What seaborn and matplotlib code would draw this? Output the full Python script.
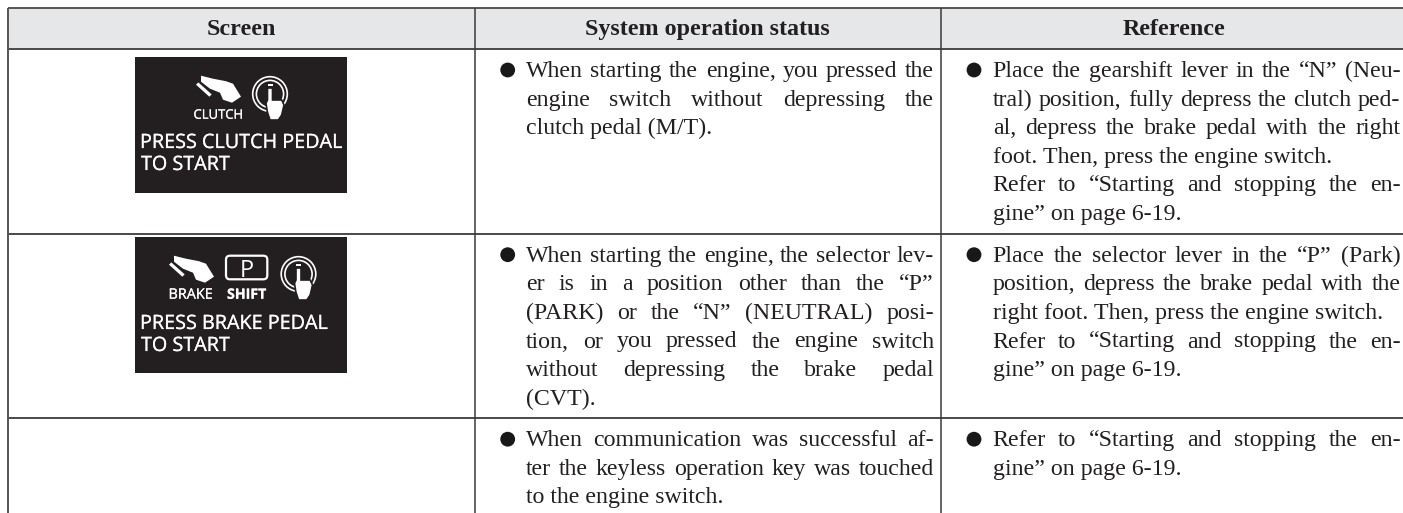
# -*- coding: utf-8 -*-
"""Warning message table redrawn in pixel coordinates."""

import matplotlib
matplotlib.use('Agg')
import matplotlib.patheffects as pe
import matplotlib.pyplot as plt
import seaborn as sns
from matplotlib.patches import Circle, FancyBboxPatch, Polygon, Rectangle

# table text
headers = ['Screen', 'System operation status', 'Reference']

# lines ending in True are stretched to the full column width
status_row1 = [('When starting the engine, you pressed the', True),
               ('engine switch without depressing the', True),
               ('clutch pedal (M/T).', False)]
status_row2 = [('When starting the engine, the selector lev-', True),
               ('er is in a position other than the “P”', True),
               ('(PARK) or the “N” (NEUTRAL) posi-', True),
               ('tion, or you pressed the engine switch', True),
               ('without depressing the brake pedal', True),
               ('(CVT).', False)]
status_row3 = [('When communication was successful af-', True),
               ('ter the keyless operation key was touched', True),
               ('to the engine switch.', False)]
reference_row1 = [('Place the gearshift lever in the “N” (Neu-', True),
                  ('tral) position, fully depress the clutch ped-', True),
                  ('al, depress the brake pedal with the right', True),
                  ('foot. Then, press the engine switch.', False),
                  ('Refer to “Starting and stopping the en-', True),
                  ('gine” on page 6-19.', False)]
reference_row2 = [('Place the selector lever in the “P” (Park)', True),
                  ('position, depress the brake pedal with the', True),
                  ('right foot. Then, press the engine switch.', False),
                  ('Refer to “Starting and stopping the en-', True),
                  ('gine” on page 6-19.', False)]
reference_row3 = [('Refer to “Starting and stopping the en-', True),
                  ('gine” on page 6-19.', False)]

screen1_lines = ['PRESS CLUTCH PEDAL', 'TO START']
screen2_lines = ['PRESS BRAKE PEDAL', 'TO START']

INK = '#231f20'
LINE = '#3a3a3a'
BODY_SIZE = 17.2
PITCH = 28.6
HEAVY = [pe.withStroke(linewidth=0.15, foreground='white')]

sns.set_theme(style='white')
plt.rcParams['font.family'] = ['Liberation Serif', 'DejaVu Serif']

fig = plt.figure(figsize=(14.03, 5.13), dpi=100)
ax = fig.add_axes([0, 0, 1, 1])
ax.set_xlim(0, 1403)
ax.set_ylim(513, 0)
ax.axis('off')
sns.despine(ax=ax, left=True, bottom=True)
renderer = fig.canvas.get_renderer()


def word_width(word):
    t = ax.text(0, 0, word, fontsize=BODY_SIZE)
    w = t.get_window_extent(renderer).width
    t.remove()
    return w


def draw_paragraph(lines, x0, x1, baseline):
    """Draw lines of text, spreading the justified ones between x0 and x1."""
    for i, (line, justify) in enumerate(lines):
        y = baseline + i * PITCH
        words = line.split(' ')
        if justify and len(words) > 1:
            widths = [word_width(w) for w in words]
            gap = (x1 - x0 - sum(widths)) / (len(words) - 1)
            x = x0
            for word, w in zip(words, widths):
                ax.text(x, y, word, fontsize=BODY_SIZE, color=INK, va='baseline')
                x += w + gap
        else:
            ax.text(x0, y, line, fontsize=BODY_SIZE, color=INK, va='baseline')


def bullet(x, y):
    ax.add_patch(Circle((x, y), 7.4, color='#1a1718', lw=0))


def pedal(x, y):
    foot = [(0, 0), (12, 3), (25, 5.5), (32, 8), (40, 21), (31, 27), (22, 24),
            (19, 17), (9, 13), (0, 6)]
    bar = [(-5, 9), (-2.7, 6.7), (10.7, 18.7), (8.3, 21)]
    ax.add_patch(Polygon([(x + a, y + b) for a, b in foot], color='white', lw=0))
    ax.add_patch(Polygon([(x + a, y + b) for a, b in bar], color='white', lw=0))


def push_button(x, y):
    ax.add_patch(Circle((x, y), 17.3, fill=False, ec='white', lw=1.2))
    ax.add_patch(Circle((x, y), 13.6, fill=False, ec='white', lw=1.2))
    ax.add_patch(Rectangle((x - 2.5, y - 10), 5, 1.6, color='white', lw=0))
    hand = [(-4, 9.3), (-2.5, 6), (-2.5, -6), (2.5, -6), (2.5, 6), (11.7, 6),
            (14, 11), (11.7, 21), (8.3, 26), (0, 26), (-2.7, 17.7)]
    ax.add_patch(Polygon([(x + a, y + b) for a, b in hand], fc='white', ec=INK, lw=1.2))


def screen_label(x, y, label, size, **kwargs):
    ax.text(x, y, label, fontsize=size, family='Open Sans', color='white',
            va='baseline', path_effects=HEAVY, **kwargs)


def screen_box(top, lines, base1, base2):
    ax.add_patch(Rectangle((135, top), 212, 136, color=INK, lw=0))
    screen_label(140, base1, lines[0], 14.25)
    screen_label(141, base2, lines[1], 14.25)


# header band and rules
ax.add_patch(Rectangle((8, 8), 1395, 40, color='#e6e7e8', lw=0))
ax.hlines(8, 8, 1403, color='#555555', lw=1.4)
ax.hlines([48.5, 233.5, 417.5], 8, 1403, color=LINE, lw=1.3)
ax.vlines(8, 8, 513, color='#555555', lw=1.4)
ax.vlines([474.5, 940.5], 8, 513, color=LINE, lw=1.1)

for x, label in zip([241, 707, 1174], headers):
    ax.text(x, 35, label, fontsize=17.3, fontweight='bold', color=INK,
            ha='center', va='baseline')

# screen column
screen_box(57, screen1_lines, 148, 170)
pedal(201, 75.7)
screen_label(218, 118.7, 'CLUTCH', 9.4, ha='center')
push_button(270, 94)

screen_box(236.5, screen2_lines, 329, 351)
pedal(174, 255.7)
screen_label(190.5, 298.7, 'BRAKE', 10.4, ha='center')
ax.add_patch(FancyBboxPatch((228, 257.7), 37.3, 19.6, boxstyle='round,pad=2,rounding_size=4',
                            fc='none', ec='white', lw=1.6))
ax.text(246.5, 276.7, 'P', fontsize=16.8, family='Open Sans', color='white',
        ha='center', va='baseline')
screen_label(246.5, 298.7, 'SHIFT', 10.2, ha='center', fontweight='bold')
push_button(298.5, 274)

# status column
for lines, base in [(status_row1, 77), (status_row2, 261.7), (status_row3, 446.2)]:
    bullet(507.7, base - 7)
    draw_paragraph(lines, 526, 934, base)

# reference column
for lines, base in [(reference_row1, 77), (reference_row2, 261.7), (reference_row3, 446.2)]:
    bullet(974, base - 7)
    draw_paragraph(lines, 992.7, 1400.5, base)

fig.savefig('out.png', dpi=100)
